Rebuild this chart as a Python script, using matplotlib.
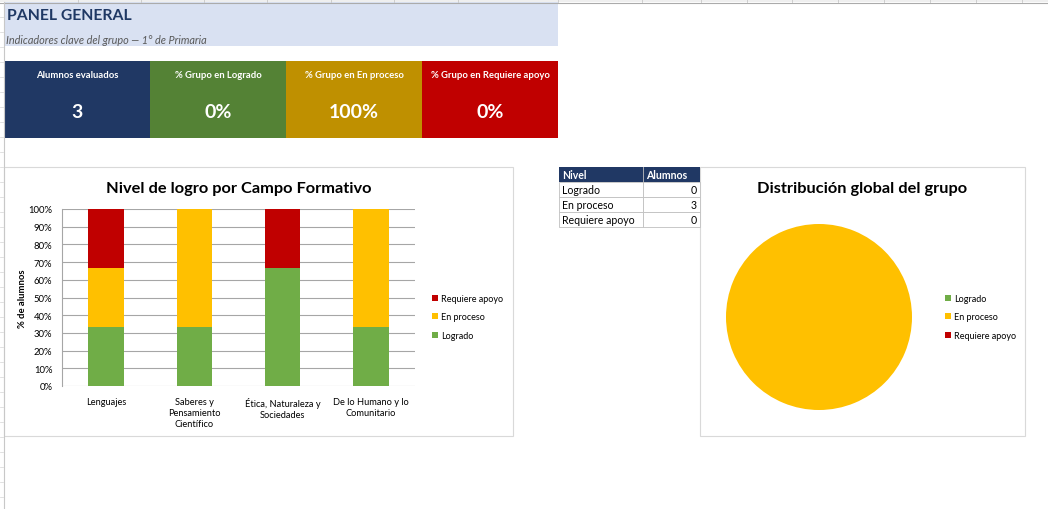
import matplotlib.pyplot as plt
from matplotlib.patches import Rectangle
from matplotlib.ticker import PercentFormatter

plt.rcParams['font.family'] = ['Lato', 'DejaVu Sans']

# data
campos = ["Lenguajes", "Saberes y\nPensamiento\nCientífico",
          "Ética, Naturaleza y\nSociedades", "De lo Humano y lo\nComunitario"]
pct_logrado = [33.3, 33.3, 66.7, 33.3]
pct_proceso = [33.3, 66.7, 0.0, 66.7]
pct_apoyo = [33.4, 0.0, 33.3, 0.0]

niveles = ["Logrado", "En proceso", "Requiere apoyo"]
alumnos = [0, 3, 0]

kpi_labels = ["Alumnos evaluados", "% Grupo en Logrado",
              "% Grupo en En proceso", "% Grupo en Requiere apoyo"]
kpi_values = ["3", "0%", "100%", "0%"]

c_logrado = '#70AD47'
c_proceso = '#FFC000'
c_apoyo = '#C00000'
kpi_colors = ['#203864', '#548235', '#BF9000', '#C00000']
navy = '#1F3864'
border = '#D9D9D9'

W, H = 1048, 510
fig = plt.figure(figsize=(W / 100, H / 100), dpi=100)

# background layer in pixel coordinates
bg = fig.add_axes([0, 0, 1, 1])
bg.set_xlim(0, W)
bg.set_ylim(H, 0)
bg.axis('off')

# excel sheet chrome: column header strip and row strip
bg.add_patch(Rectangle((0, 0), W, 3, facecolor='#EFEFEF', edgecolor='none'))
bg.plot([0, W], [3.5, 3.5], color='#ABABAB', lw=0.8)
for cx in [78, 141, 204, 267, 331, 394, 458, 558, 642, 701, 747, 792, 838, 884, 930, 976, 1022]:
    bg.plot([cx, cx], [0, 3], color='#C8C8C8', lw=0.6)
bg.plot([3.5, 3.5], [3, H], color='#C8C8C8', lw=0.8)
for ry in range(18, H, 15):
    bg.plot([0, 3], [ry, ry], color='#D4D4D4', lw=0.5)

# header band
bg.add_patch(Rectangle((4, 3), 554, 44, facecolor='#D9E1F2', edgecolor='none'))
bg.text(7, 16, "PANEL GENERAL", fontsize=11.3, fontweight='bold', color=navy,
        va='center', ha='left')
bg.text(6, 41, "Indicadores clave del grupo \u2014 1° de Primaria", fontsize=7.8,
        style='italic', color='#595959', va='center', ha='left')

# kpi cards
card_x = [4, 150, 286, 422, 558]
for i in range(4):
    bg.add_patch(Rectangle((card_x[i], 62), card_x[i + 1] - card_x[i], 77,
                           facecolor=kpi_colors[i], edgecolor='none'))
    mid = (card_x[i] + card_x[i + 1]) / 2
    bg.text(mid, 75, kpi_labels[i], fontsize=6.8, fontweight='bold', color='white',
            ha='center', va='center')
    bg.text(mid, 113, kpi_values[i], fontsize=14, fontweight='bold', color='white',
            ha='center', va='center')

# chart frames
bg.add_patch(Rectangle((4, 168), 509, 269, facecolor='white', edgecolor=border, lw=0.8))
bg.add_patch(Rectangle((700, 168), 325, 269, facecolor='white', edgecolor=border, lw=0.8))

# summary table
tx0, tx1, tx2 = 559, 643, 700
ty0, rh = 168, 15
bg.add_patch(Rectangle((tx0, ty0), tx2 - tx0, rh, facecolor='#203864', edgecolor='none'))
bg.text(tx0 + 3, ty0 + rh / 2, "Nivel", fontsize=7.6, fontweight='bold', color='white', va='center')
bg.text(tx1 + 3, ty0 + rh / 2, "Alumnos", fontsize=7.6, fontweight='bold', color='white', va='center')
for r, (niv, n) in enumerate(zip(niveles, alumnos)):
    y = ty0 + rh * (r + 1)
    bg.add_patch(Rectangle((tx0, y), tx1 - tx0, rh, facecolor='white', edgecolor='#BFBFBF', lw=0.6))
    bg.add_patch(Rectangle((tx1, y), tx2 - tx1, rh, facecolor='white', edgecolor='#BFBFBF', lw=0.6))
    bg.text(tx0 + 3, y + rh / 2, niv, fontsize=7.6, color='black', va='center')
    bg.text(tx2 - 3, y + rh / 2, str(n), fontsize=7.6, color='black', va='center', ha='right')
bg.plot([tx1, tx1], [ty0, ty0 + rh], color='#BFBFBF', lw=0.6)

# stacked bar chart
ax = fig.add_axes([62 / W, 1 - 387 / H, 353 / W, 177 / H])
x = range(len(campos))
b1 = ax.bar(x, pct_logrado, width=0.4, color=c_logrado, label="Logrado", zorder=3)
b2 = ax.bar(x, pct_proceso, width=0.4, bottom=pct_logrado, color=c_proceso,
            label="En proceso", zorder=3)
bottoms = [a + b for a, b in zip(pct_logrado, pct_proceso)]
b3 = ax.bar(x, pct_apoyo, width=0.4, bottom=bottoms, color=c_apoyo,
            label="Requiere apoyo", zorder=3)
ax.set_xlim(-0.5, len(campos) - 0.5)
ax.set_ylim(0, 100)
ax.set_yticks(range(0, 101, 10))
ax.yaxis.set_major_formatter(PercentFormatter(decimals=0))
ax.set_xticks(list(x))
ax.set_xticklabels(campos, fontsize=6.7, linespacing=1.3, va='top')
ax.tick_params(axis='y', labelsize=6.8, length=0, pad=7)
ax.tick_params(axis='x', length=0, pad=8)
ax.grid(axis='y', color='#A6A6A6', lw=0.8, zorder=0)
for s in ['top', 'right', 'bottom']:
    ax.spines[s].set_visible(False)
ax.spines['left'].set_color('#A6A6A6')
ax.set_ylabel("% de alumnos", fontsize=6.8, fontweight='bold', labelpad=1)
ax.set_title("Nivel de logro por Campo Formativo", fontsize=11.8, fontweight='bold', pad=12)
ax.legend(handles=[b3, b2, b1], loc='center left', bbox_to_anchor=(424 / W, 1 - 318 / H),
          bbox_transform=fig.transFigure, frameon=False, fontsize=6.5,
          handlelength=0.6, handleheight=0.6, handletextpad=0.4, labelspacing=1.05)

# pie chart
pax = fig.add_axes([(819 - 93) / W, 1 - (318 + 93) / H, 186 / W, 186 / H])
wedges, _ = pax.pie(alumnos, colors=[c_logrado, c_proceso, c_apoyo],
                    startangle=90, counterclock=False, radius=1)
pax.set_xlim(-1, 1)
pax.set_ylim(-1, 1)
pax.set_aspect('equal')
fig.text(862 / W, 1 - 189 / H, "Distribución global del grupo", fontsize=11.8,
         fontweight='bold', ha='center', va='center')
pax.legend(wedges, niveles, loc='center left', bbox_to_anchor=(937 / W, 1 - 318 / H),
           bbox_transform=fig.transFigure, frameon=False, fontsize=6.5,
           handlelength=0.6, handleheight=0.6, handletextpad=0.4, labelspacing=1.05)

fig.savefig('out.png', dpi=100)
